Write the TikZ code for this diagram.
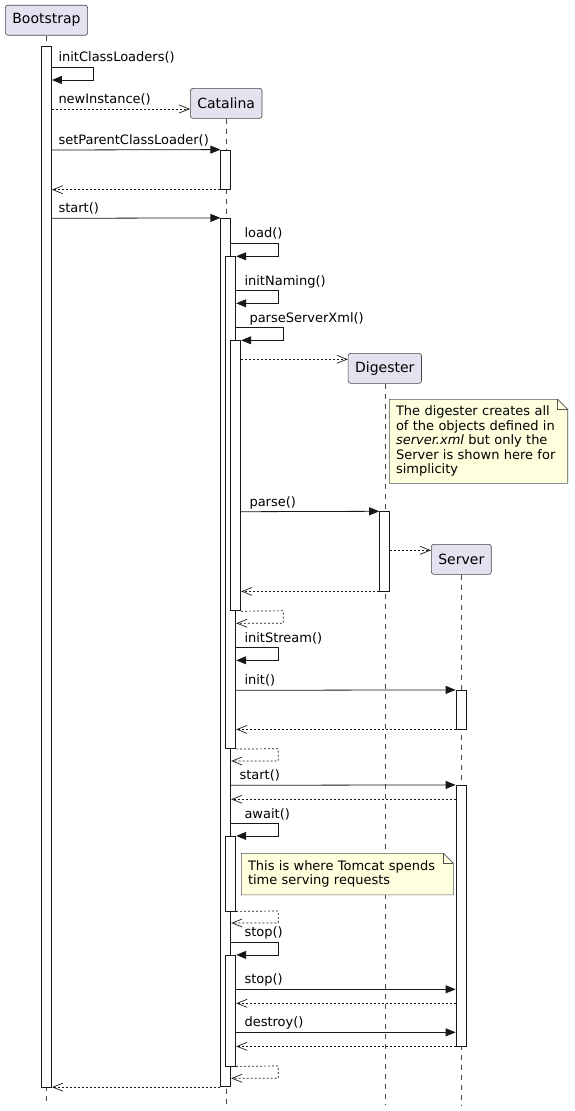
\documentclass[tikz,border=0pt]{standalone}
\usepackage{fontspec}
\setmainfont{DejaVu Sans}
\usetikzlibrary{arrows.meta,fit,positioning}
\definecolor{partfill}{HTML}{E2E2F0}
\definecolor{notefill}{HTML}{FEFFDD}
\definecolor{umlline}{HTML}{181818}

\begin{document}
\begin{tikzpicture}[x=1pt,y=-1pt]
\tikzstyle{partbox} = [draw=umlline!80, fill=partfill, line width=0.6pt, rounded corners=2.5pt, inner xsep=7pt, minimum height=30pt, font=\fontsize{14}{16}\selectfont]
\tikzstyle{life} = [draw=umlline!80, line width=0.5pt, dash pattern=on 5pt off 5pt]
\tikzstyle{act} = [draw=umlline, fill=white, inner sep=0pt, line width=0.8pt]
\tikzstyle{sync} = [draw=umlline, line width=0.8pt, -{Triangle[length=10pt,width=8pt]}]
\tikzstyle{reply} = [draw=umlline, line width=0.7pt, dash pattern=on 2pt off 2pt, -{Straight Barb[length=10pt,width=8pt]}]
\tikzstyle{lbl} = [anchor=base west, inner sep=0pt, font=\fontsize{13}{15}\selectfont]
\tikzstyle{notebox} = [fill=notefill, anchor=north west, inner xsep=6.5pt, inner ysep=0pt, align=left, font=\fontsize{13}{14.5}\selectfont]
\tikzstyle{noteline} = [draw=umlline!75, line width=0.6pt]

\useasboundingbox (0,0) rectangle (574,1111);

% participants and lifelines
\node[partbox] (bootstrap) at (46.5,20.2) {Bootstrap};
\node[partbox] (catalina) at (226.2,103.3) {Catalina};
\node[partbox] (digester) at (384.8,368.3) {Digester};
\node[partbox] (server) at (461.3,559.3) {Server};
\draw[life] (bootstrap) -- (bootstrap |- 0,1105);
\draw[life] (catalina) -- (catalina |- 0,1105);
\draw[life] (digester) -- (digester |- 0,1105);
\draw[life] (server) -- (server |- 0,1105);

% activations
\node[act, fit={(41.5,46.7) (51.5,1087)}] (bootact) {};
\node[act, fit={(220.8,150) (230.8,189.3)}] (catact1) {};
\node[act, fit={(220.8,218.3) (230.8,1086.7)}] (catact2) {};
\node[act, fit={(225.8,256.7) (235.8,748.7)}] (loadact) {};
\node[act, fit={(230.8,340.7) (240.8,610.8)}] (parseact) {};
\node[act, fit={(379.6,511.7) (389.6,591)}] (digact) {};
\node[act, fit={(456,690.3) (466,729)}] (initact) {};
\node[act, fit={(456,785.3) (466,1046)}] (startact) {};
\node[act, fit={(225.8,836.3) (235.8,911)}] (awaitact) {};
\node[act, fit={(225.8,955.3) (235.8,1066)}] (stopact) {};

% Bootstrap
\node[lbl] (initcl) at (58.3,61.5) {initClassLoaders()};
\draw[sync] (bootact.east |- 0,67.3) -- (93.3,67.3) |- (bootact.east |- 0,80);
\node[lbl] (newinst) at (58.3,103.5) {newInstance()};
\draw[reply] (bootact.east |- 0,109) -- (catalina.west |- 0,109);
\node[lbl] (setparent) at (58.3,144.5) {setParentClassLoader()};
\draw[sync] (bootact.east |- 0,150) -- (catact1.north west);
\draw[reply] (catact1.south west) -- (bootact.east |- catact1.south west);
\node[lbl] (bootstart) at (58.3,212.8) {start()};
\draw[sync] (bootact.east |- 0,218.3) -- (catact2.north west);

% Catalina.load
\node[lbl] (load) at (244.3,237.8) {load()};
\draw[sync] (catact2.east |- 0,243.3) -- (278.3,243.3) |- (loadact.north east);
\node[lbl] (naming) at (244.3,285.2) {initNaming()};
\draw[sync] (loadact.east |- 0,290.7) -- (278.3,290.7) |- (loadact.east |- 0,303.3);
\node[lbl] (parsexml) at (249.3,322.2) {parseServerXml()};
\draw[sync] (loadact.east |- 0,327.7) -- (283.3,327.7) |- (parseact.north east);
\draw[reply] (parseact.east |- 0,359.3) -- (digester.west |- 0,359.3);

\node[notebox, text width=165pt, minimum height=83.7pt] (note1) at (389.3,399.3) {The digester creates all\\of the objects defined in\\\textit{server.xml} but only the\\Server is shown here for\\simplicity};
\fill[white] ([xshift=-10pt]note1.north east) -- ([xshift=1pt,yshift=1pt]note1.north east) -- ([yshift=-10pt]note1.north east) -- cycle;
\draw[noteline] (note1.north west) -- ([xshift=-10pt]note1.north east) -- ([yshift=-10pt]note1.north east) -- (note1.south east) -- (note1.south west) -- cycle;
\draw[noteline] ([xshift=-10pt]note1.north east) |- ([yshift=-10pt]note1.north east);

\node[lbl] (parse) at (249.3,506.2) {parse()};
\draw[sync] (parseact.east |- 0,511.7) -- (digact.north west);
\draw[reply] (digact.east |- 0,550.3) -- (server.west |- 0,550.3);
\draw[reply] (digact.south west) -- (parseact.east |- digact.south west);
\draw[reply] (parseact.south east) -- (283.3,610.8) |- (loadact.east |- 0,623.3);
\node[lbl] (stream) at (244.3,642.2) {initStream()};
\draw[sync] (loadact.east |- 0,647.7) -- (278.3,647.7) |- (loadact.east |- 0,660.3);
\node[lbl] (init) at (244.3,684.8) {init()};
\draw[sync] (loadact.east |- 0,690.3) -- (initact.north west);
\draw[reply] (initact.south west) -- (loadact.east |- initact.south west);
\draw[reply] (loadact.south east) -- (278.3,748.7) |- (catact2.east |- 0,761);

% Catalina.start
\node[lbl] (catstart) at (239.3,779.8) {start()};
\draw[sync] (catact2.east |- 0,785.3) -- (startact.north west);
\draw[reply] (startact.west |- 0,799.3) -- (catact2.east |- 0,799.3);
\node[lbl] (await) at (244.3,818.2) {await()};
\draw[sync] (catact2.east |- 0,823.7) -- (278.3,823.7) |- (awaitact.north east);

\node[notebox, text width=198.7pt, minimum height=41.2pt] (note2) at (241.3,853.3) {This is where Tomcat spends\\time serving requests};
\fill[white] ([xshift=-10pt]note2.north east) -- ([xshift=1pt,yshift=1pt]note2.north east) -- ([yshift=-10pt]note2.north east) -- cycle;
\draw[noteline] (note2.north west) -- ([xshift=-10pt]note2.north east) -- ([yshift=-10pt]note2.north east) -- (note2.south east) -- (note2.south west) -- cycle;
\draw[noteline] ([xshift=-10pt]note2.north east) |- ([yshift=-10pt]note2.north east);

\draw[reply] (awaitact.south east) -- (278.3,911) |- (catact2.east |- 0,923);
\node[lbl] (stop) at (244.3,936.8) {stop()};
\draw[sync] (catact2.east |- 0,942.3) -- (278.3,942.3) |- (stopact.north east);
\node[lbl] (srvstop) at (244.3,983.8) {stop()};
\draw[sync] (stopact.east |- 0,989.3) -- (startact.west |- 0,989.3);
\draw[reply] (startact.west |- 0,1003.3) -- (stopact.east |- 0,1003.3);
\node[lbl] (destroy) at (244.3,1026.8) {destroy()};
\draw[sync] (stopact.east |- 0,1032.3) -- (startact.west |- 0,1032.3);
\draw[reply] (startact.south west) -- (stopact.east |- startact.south west);
\draw[reply] (stopact.south east) -- (278.3,1066) |- (catact2.east |- 0,1078.3);
\draw[reply] (catact2.south west) -- (bootact.east |- catact2.south west);
\end{tikzpicture}
\end{document}
